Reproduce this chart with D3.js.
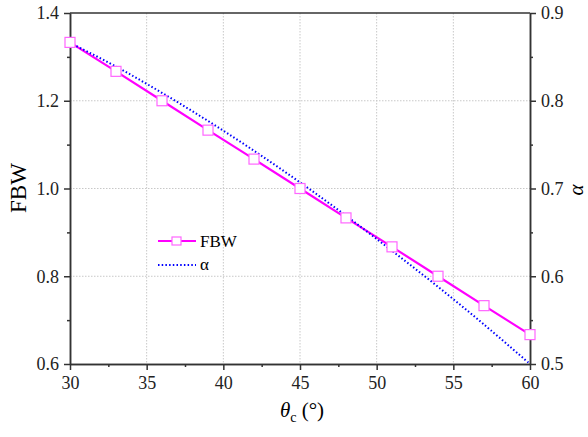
<html>
  <head>
    <meta charset="utf-8" />
    <script src="https://cdnjs.cloudflare.com/ajax/libs/d3/7.6.1/d3.min.js"></script>
    <style>
      body { margin: 0; background: #fff; }
      .grid line { stroke: #c8c8c8; stroke-dasharray: 1.5,1.5; stroke-width: 1; }
      .axis path, .axis line { stroke: #333; stroke-width: 1.5; }
    </style>
  </head>
  <body>
    <svg width="588" height="437"></svg>
  </body>
  <script>
    const theta = [30, 33, 36, 39, 42, 45, 48, 51, 54, 57, 60];
    const fbw = [1.333, 1.267, 1.2, 1.133, 1.067, 1.0, 0.933, 0.867, 0.8, 0.733, 0.667];
    const alpha = [0.866, 0.839, 0.809, 0.777, 0.743, 0.707, 0.669, 0.629, 0.588, 0.545, 0.5];
    const xTicks = [30, 35, 40, 45, 50, 55, 60];
    const yTicks = [0.6, 0.8, 1.0, 1.2, 1.4];
    const y2Ticks = [0.5, 0.6, 0.7, 0.8, 0.9];

    const serif = "Liberation Serif";

    let svg = d3.select("svg"),
      margin = { top: 13, right: 58, bottom: 73, left: 70 },
      width = +svg.attr("width") - margin.left - margin.right,
      height = +svg.attr("height") - margin.top - margin.bottom;

    let x = d3.scaleLinear().domain([30, 60]).range([0, width]),
      y = d3.scaleLinear().domain([0.6, 1.4]).range([height, 0]),
      y2 = d3.scaleLinear().domain([0.5, 0.9]).range([height, 0]);

    let g = svg.append("g").attr("transform", `translate(${margin.left},${margin.top})`);

    // grid
    let grid = g.append("g").attr("class", "grid");
    grid.selectAll(".gx").data(xTicks.slice(1, -1)).enter().append("line")
      .attr("x1", (d) => x(d)).attr("x2", (d) => x(d)).attr("y1", 0).attr("y2", height);
    grid.selectAll(".gy").data(yTicks.slice(1, -1)).enter().append("line")
      .attr("x1", 0).attr("x2", width).attr("y1", (d) => y(d)).attr("y2", (d) => y(d));

    // minor ticks
    const minorX = [32.5, 37.5, 42.5, 47.5, 52.5, 57.5];
    const minorY = [0.7, 0.9, 1.1, 1.3];
    const minorY2 = [0.55, 0.65, 0.75, 0.85];

    g.append("g").attr("class", "axis").attr("transform", `translate(0,${height})`)
      .call(d3.axisBottom(x).tickValues(xTicks).tickSize(6).tickSizeOuter(0).tickPadding(6));
    g.append("g").attr("class", "axis").attr("transform", `translate(0,${height})`)
      .call(d3.axisBottom(x).tickValues(minorX).tickSize(3).tickSizeOuter(0).tickFormat(""));
    g.append("g").attr("class", "axis")
      .call(d3.axisLeft(y).tickValues(yTicks).tickFormat(d3.format(".1f")).tickSize(6).tickSizeOuter(0).tickPadding(5));
    g.append("g").attr("class", "axis")
      .call(d3.axisLeft(y).tickValues(minorY).tickSize(3).tickSizeOuter(0).tickFormat(""));
    g.append("g").attr("class", "axis").attr("transform", `translate(${width},0)`)
      .call(d3.axisRight(y2).tickValues(y2Ticks).tickFormat(d3.format(".1f")).tickSize(6).tickSizeOuter(0).tickPadding(5));
    g.append("g").attr("class", "axis").attr("transform", `translate(${width},0)`)
      .call(d3.axisRight(y2).tickValues(minorY2).tickSize(3).tickSizeOuter(0).tickFormat(""));
    g.selectAll(".axis").attr("font-family", null);
    g.selectAll(".axis text").attr("font-family", serif).attr("font-size", 18).attr("fill", "#222");
    g.append("line").attr("x1", 0).attr("x2", width).attr("y1", 0).attr("y2", 0)
      .attr("stroke", "#333").attr("stroke-width", 1.5);

    const fbwData = theta.map((t, i) => ({ t: t, v: fbw[i] }));
    const alphaData = theta.map((t, i) => ({ t: t, v: alpha[i] }));

    g.append("path").datum(fbwData)
      .attr("fill", "none").attr("stroke", "#ff00ff").attr("stroke-width", 2.2)
      .attr("d", d3.line().x((d) => x(d.t)).y((d) => y(d.v)));

    g.append("path").datum(alphaData)
      .attr("fill", "none").attr("stroke", "#0000ff").attr("stroke-width", 2)
      .attr("stroke-dasharray", "1.5,2.2")
      .attr("d", d3.line().curve(d3.curveCatmullRom).x((d) => x(d.t)).y((d) => y2(d.v)));

    g.selectAll(".sq").data(fbwData).enter().append("rect")
      .attr("x", (d) => x(d.t) - 5).attr("y", (d) => y(d.v) - 5)
      .attr("width", 10).attr("height", 10)
      .attr("fill", "#fff").attr("stroke", "#ff66ff").attr("stroke-width", 1.2);

    // legend
    let lg = g.append("g").attr("transform", "translate(88,228)");
    lg.append("line").attr("x1", 0).attr("x2", 38).attr("y1", 0).attr("y2", 0)
      .attr("stroke", "#ff00ff").attr("stroke-width", 2.2);
    lg.append("rect").attr("x", 14).attr("y", -4).attr("width", 9).attr("height", 8)
      .attr("fill", "#fff").attr("stroke", "#ff66ff").attr("stroke-width", 1.2);
    lg.append("text").attr("x", 42).attr("y", 6).attr("font-family", serif).attr("font-size", 17).text("FBW");
    lg.append("line").attr("x1", 0).attr("x2", 38).attr("y1", 24).attr("y2", 24)
      .attr("stroke", "#0000ff").attr("stroke-width", 2).attr("stroke-dasharray", "1.5,2.2");
    lg.append("text").attr("x", 42).attr("y", 29).attr("font-family", serif).attr("font-size", 17).text("α");

    // axis titles
    svg.append("text").attr("transform", `translate(26,188) rotate(-90)`).attr("font-family", serif)
      .attr("text-anchor", "middle").attr("font-size", 23).text("FBW");
    svg.append("text").attr("transform", `translate(583,190) rotate(-90)`).attr("font-family", serif)
      .attr("text-anchor", "middle").attr("font-size", 21).attr("font-style", "italic").text("α");
    let xt = svg.append("text").attr("x", 302).attr("y", 417).attr("font-family", serif)
      .attr("text-anchor", "middle").attr("font-size", 21);
    xt.append("tspan").attr("font-style", "italic").text("θ");
    xt.append("tspan").attr("font-size", 14).attr("dy", 5).text("c");
    xt.append("tspan").attr("dy", -5).text(" (°)");
  </script>
</html>
